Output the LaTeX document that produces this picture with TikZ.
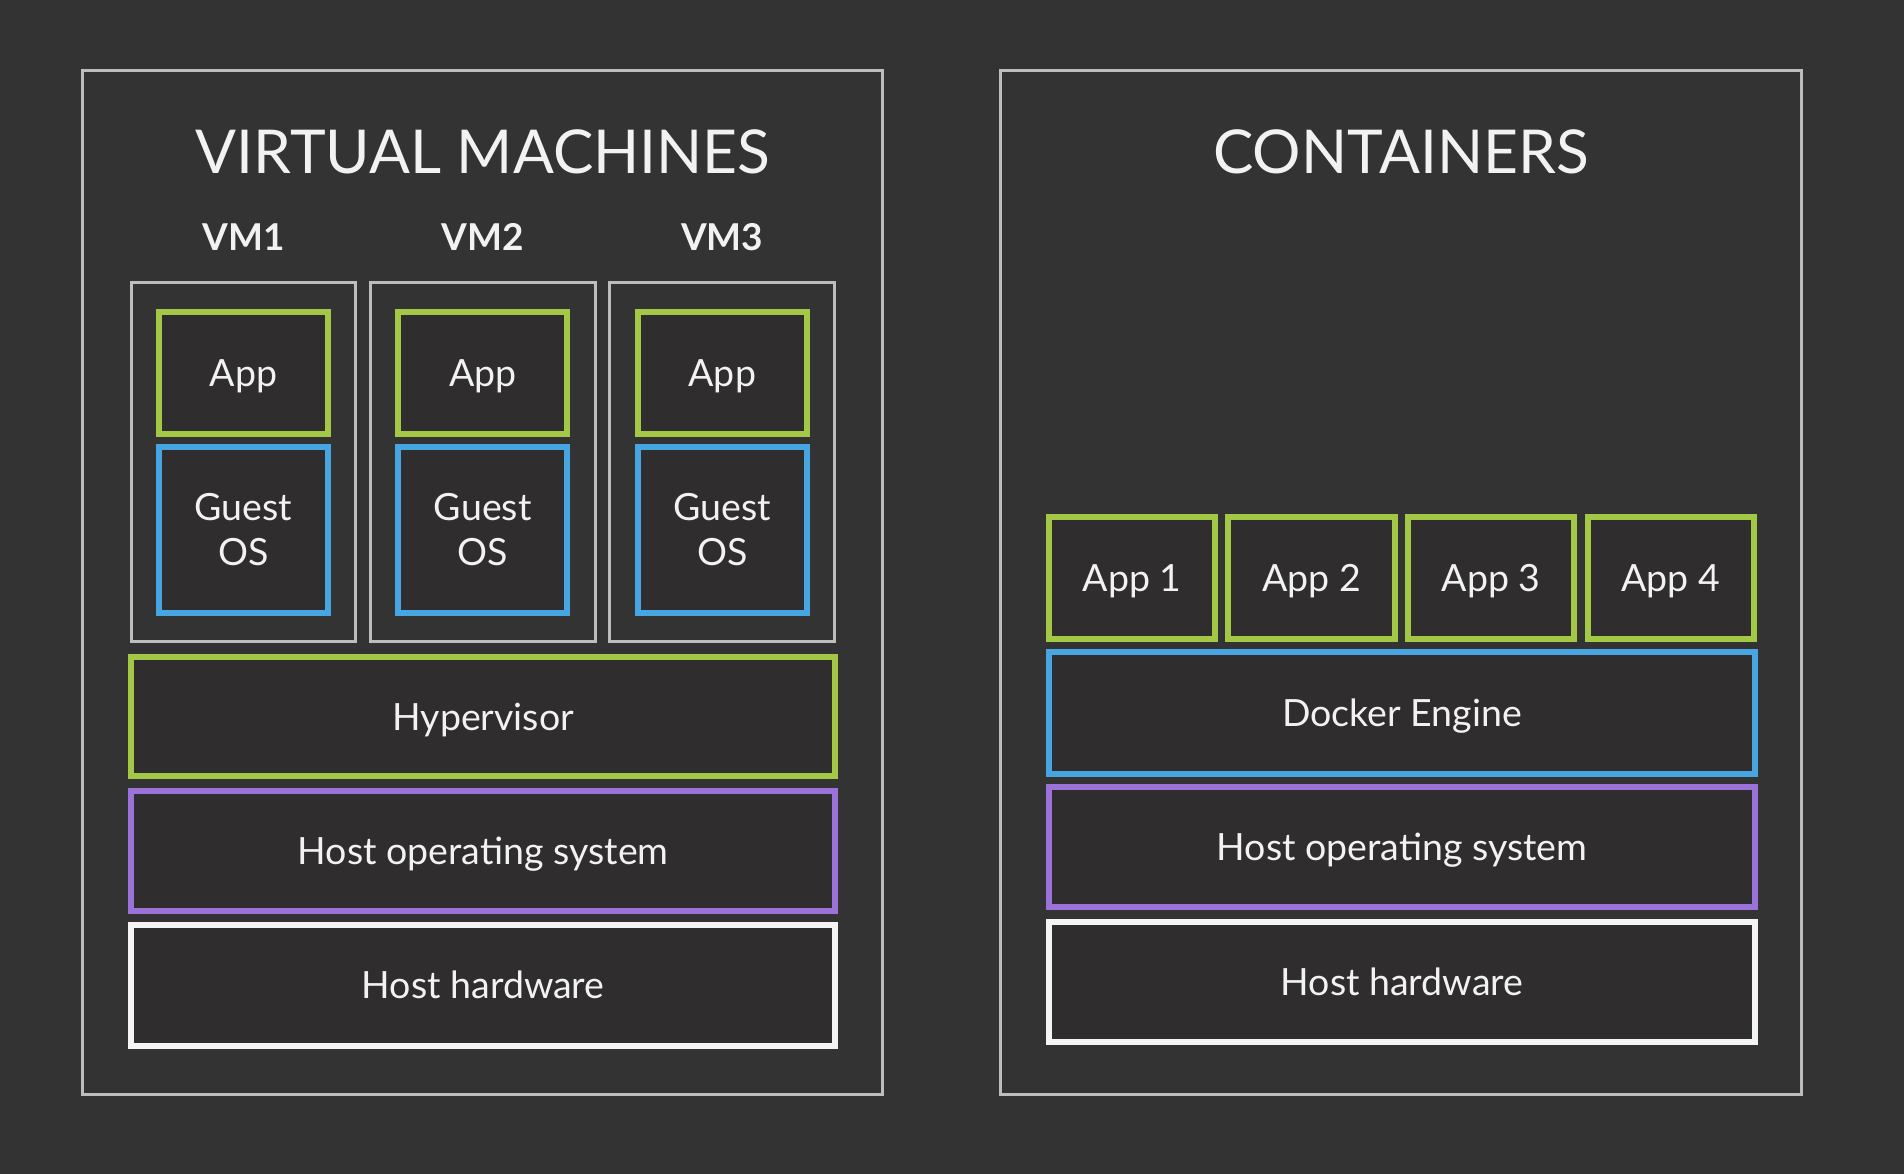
\documentclass[tikz,border=0pt]{standalone}
\usepackage{fontspec}
\setmainfont{Lato}
\definecolor{bgc}{HTML}{333333}
\definecolor{boxfill}{HTML}{2F2D2D}
\definecolor{framec}{HTML}{BDBDBD}
\definecolor{greenc}{HTML}{A2C845}
\definecolor{bluec}{HTML}{47A5E2}
\definecolor{purplec}{HTML}{9A72D8}
\definecolor{whitec}{HTML}{F4F4F4}
\definecolor{txt}{HTML}{F2F2F2}
\tikzset{
  panel/.style={draw=framec, line width=3pt, fill=bgc, inner sep=0pt},
  vmbox/.style={draw=framec, line width=3pt, fill=bgc, inner sep=0pt},
  layer/.style={line width=6pt, fill=boxfill, inner sep=0pt, text=txt,
    font=\fontsize{37.5}{45}\selectfont, text height=27pt, text depth=0pt},
  greenbox/.style={layer, draw=greenc},
  bluebox/.style={layer, draw=bluec},
  purplebox/.style={layer, draw=purplec},
  whitebox/.style={layer, draw=whitec},
  twoline/.style={text height=, text depth=, align=center},
  bigtitle/.style={text=txt, font=\fontsize{60.5}{70}\selectfont, anchor=base, inner sep=0pt},
  vmlabel/.style={text=txt, font=\bfseries\fontsize{37}{40}\selectfont, anchor=base, inner sep=0pt},
}
\begin{document}
\begin{tikzpicture}[x=1pt,y=-1pt]
\fill[bgc] (0,0) rectangle (1904,1174);
\useasboundingbox (0,0) rectangle (1904,1174);

% panels
\node[panel, minimum width=800pt, minimum height=1024pt] (vmpanel) at (482.7,582.3) {};
\node[panel, minimum width=801pt, minimum height=1024pt] (ctpanel) at (1401.3,582.3) {};

\node[bigtitle] (vmtitle) at (483,174) {VIRTUAL MACHINES};
\node[bigtitle] (cttitle) at (1401,174) {CONTAINERS};

% VM columns
\foreach \i/\x in {1/243.5, 2/482.7, 3/722.3} {
  \node[vmlabel] (vmlab\i) at (\x,251) {VM\i};
  \node[vmbox, minimum width=224.7pt, minimum height=358.3pt] (vm\i) at (\x,462) {};
  \node[greenbox, minimum width=168.8pt, minimum height=121.4pt] (app\i) at (\x,372.8) {App};
  \node[bluebox, twoline, minimum width=168.8pt, minimum height=166.3pt] (guest\i) at (\x,530) {Guest\\OS};
}

\node[greenbox, minimum width=704.3pt, minimum height=119pt] (hyper) at (483.2,716.5) {Hypervisor};
\node[purplebox, minimum width=704.3pt, minimum height=120.2pt] (hostosL) at (483.2,850.6) {Host operating system};
\node[whitebox, minimum width=704.3pt, minimum height=120.2pt] (hosthwL) at (483.2,985.4) {Host hardware};

% containers
\foreach \i/\x in {1/1132.3, 2/1311.6, 3/1491.1, 4/1670.9} {
  \node[greenbox, minimum width=166.3pt, minimum height=121.4pt] (capp\i) at (\x,578) {App \i};
}
\node[bluebox, minimum width=705.5pt, minimum height=121.4pt] (docker) at (1402,712.8) {Docker Engine};
\node[purplebox, minimum width=705.5pt, minimum height=120.2pt] (hostosR) at (1402,847) {Host operating system};
\node[whitebox, minimum width=705.5pt, minimum height=120.2pt] (hosthwR) at (1402,981.8) {Host hardware};
\end{tikzpicture}
\end{document}
